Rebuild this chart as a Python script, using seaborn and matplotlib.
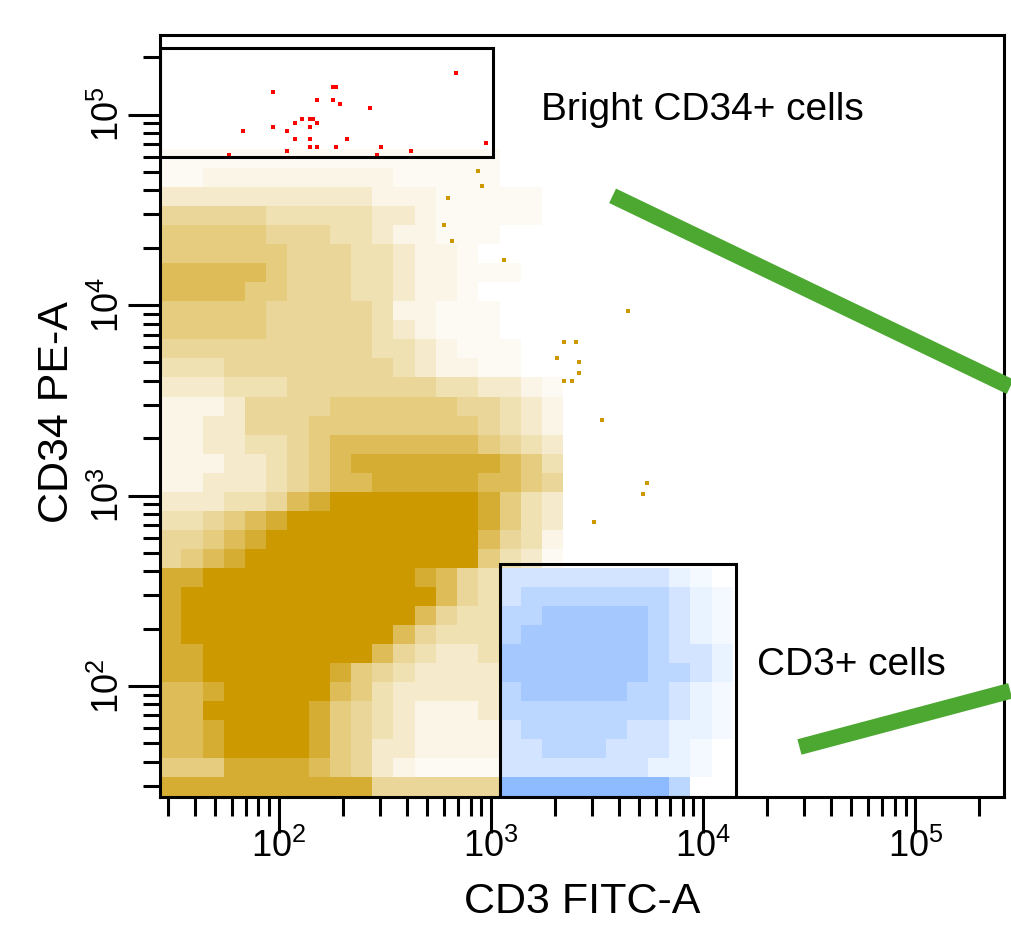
import numpy as np
import pandas as pd
import matplotlib
matplotlib.use("Agg")
import matplotlib.pyplot as plt
from matplotlib.colors import LinearSegmentedColormap
from matplotlib.patches import Rectangle
from matplotlib.ticker import LogLocator, NullFormatter
import seaborn as sns

sns.set_style("ticks")
plt.rcParams["font.family"] = ["Liberation Sans", "DejaVu Sans"]
plt.rcParams["mathtext.default"] = "regular"
plt.rcParams.update({"text.color": "black", "axes.labelcolor": "black",
                     "xtick.color": "black", "ytick.color": "black"})

GOLD = "#CC9900"
BLUE = "#1E78FF"
RED = "#FF0000"
GREEN = "#4DA832"

# event density, 0.1 decade cells (log10 units)
STEP = 0.1
# occupancy code -> share of the cell covered by events
LEVELS = [0, 0.05, 0.1, 0.2, 0.3, 0.4, 0.5, 0.65, 0.8, 1.0]

# ungated events, rows top (10^4.82) to bottom (10^1.42), cols from 10^1.44
GOLD_X0, GOLD_Y0 = 1.44, 1.42
gold_rows = [
    "1111111111111111000",
    "1122222222211111000",
    "3333333333222111110",
    "5555544444332111110",
    "6666655544322111000",
    "6666665554432210000",
    "7777765554432211100",
    "7777665554432210000",
    "6666655555422111000",
    "6666655555432111000",
    "5555555555443211100",
    "4445555555543221100",
    "3334445555555443321",
    "2223555566666655432",
    "2233555666666665432",
    "2233445677777776543",
    "2223345678888888764",
    "2233345677888887765",
    "3334457899999998643",
    "4456789999999998643",
    "5567899999999997542",
    "5678999999999996431",
    "8899999999998754000",
    "8999999999999754000",
    "8999999999997544000",
    "8999999999975444000",
    "8899999999754334000",
    "8899999986543333000",
    "7789999976433333000",
    "7799999865432223000",
    "7789999865432222000",
    "7789999865332222000",
    "6668888765321111000",
    "8888888888555555000",
]

# CD3+ gate events, rows top (10^2.62) to bottom (10^1.42), cols from 10^3.04
BLUE_X0, BLUE_Y0 = 3.04, 1.42
blue_rows = [
    "33333333210",
    "34444444321",
    "44555554321",
    "45555554321",
    "55555554332",
    "55555554432",
    "45555544321",
    "44444444321",
    "34444433221",
    "33444333210",
    "33333332210",
    "66666666400",
]

# bright CD34+ events
red_x = [682, 94, 179, 185, 151, 179, 194, 269, 128, 140, 145, 119, 151, 68, 94,
         140, 109, 119, 140, 209, 944, 140, 151, 185, 302, 109, 419, 58, 290]
red_y = [166000, 132000, 139000, 139000, 120000, 120000, 114000, 109000, 95300,
         95300, 95300, 90800, 90800, 82400, 86500, 86500, 82400, 74800, 74800,
         74800, 71300, 67900, 67900, 67900, 67900, 64700, 64700, 61700, 61700]

# isolated ungated events outside the dense cloud
gold_out_x = [4405, 5410, 5190, 3320, 3050, 2200, 2505, 2590, 2040, 2590, 2200,
              2400, 1150, 865, 904, 625, 598, 653]
gold_out_y = [9330, 1165, 1020, 2495, 726, 6410, 6410, 5035, 5280, 4405, 4000,
              4000, 17300, 50800, 42400, 36600, 26400, 21800]

gate_bright = [27.5, 1020, 60100, 225000]
gate_cd3 = [1100, 14350, 26.1, 437]

arrow_upper_x, arrow_upper_y = [3741, 280500], [37500, 3724]
arrow_lower_x, arrow_lower_y = [28440, 280500], [47.8, 94.2]


def grid_frame(rows, x0, y0):
    recs = []
    n = len(rows)
    for i, row in enumerate(rows):
        ylog = y0 + (n - 1 - i) * STEP + STEP / 2
        for j, code in enumerate(row):
            if code != "0":
                recs.append((10 ** (x0 + j * STEP + STEP / 2), 10 ** ylog, LEVELS[int(code)]))
    return pd.DataFrame(recs, columns=["cd3", "cd34", "w"])


def draw_grid(ax, rows, x0, y0, color):
    df = grid_frame(rows, x0, y0)
    cmap = LinearSegmentedColormap.from_list("c", ["white", color])
    sns.histplot(data=df, x="cd3", y="cd34", weights="w", log_scale=(True, True),
                 binwidth=STEP,
                 binrange=((x0, x0 + len(rows[0]) * STEP), (y0, y0 + len(rows) * STEP)),
                 cmap=cmap, vmin=0, vmax=1, ax=ax)


fig = plt.figure(figsize=(10.11, 9.31), dpi=100)
ax = fig.add_axes([0.1583, 0.1439, 0.8348, 0.8185])

draw_grid(ax, gold_rows, GOLD_X0, GOLD_Y0, GOLD)
draw_grid(ax, blue_rows, BLUE_X0, BLUE_Y0, BLUE)

sns.scatterplot(x=gold_out_x, y=gold_out_y, color=GOLD, marker="s", s=10,
                linewidth=0, ax=ax)
sns.scatterplot(x=red_x, y=red_y, color=RED, marker="s", s=10, linewidth=0, ax=ax)

for x0, x1, y0, y1 in [gate_bright, gate_cd3]:
    ax.add_patch(Rectangle((x0, y0), x1 - x0, y1 - y0, fill=False,
                           edgecolor="black", linewidth=2.2, zorder=5))

ax.text(1714, 106000, "Bright CD34+ cells", fontsize=28, va="center", ha="left")
ax.text(18030, 129, "CD3+ cells", fontsize=28, va="center", ha="left")

for xs, ys in [(arrow_upper_x, arrow_upper_y), (arrow_lower_x, arrow_lower_y)]:
    ax.plot(xs, ys, color=GREEN, linewidth=11.5, solid_capstyle="butt",
            clip_on=False, zorder=6)

ax.set_xscale("log")
ax.set_yscale("log")
ax.set_xlim(27.5, 262144)
ax.set_ylim(26.1, 262144)

for axis in (ax.xaxis, ax.yaxis):
    axis.set_major_locator(LogLocator(base=10, numticks=10))
    axis.set_minor_locator(LogLocator(base=10, subs=np.arange(2, 10), numticks=100))
    axis.set_minor_formatter(NullFormatter())

ax.tick_params(axis="x", which="major", length=26, width=2.2, labelsize=26, pad=-3)
ax.tick_params(axis="x", which="minor", length=14, width=2.2)
ax.tick_params(axis="y", which="major", length=23, width=2.2, labelsize=26,
               pad=1, labelrotation=90)
ax.tick_params(axis="y", which="minor", length=12, width=2.2)
plt.setp(ax.get_yticklabels(), va="center")

for spine in ax.spines.values():
    spine.set_linewidth(2.2)
    spine.set_color("black")

ax.set_xlabel("CD3 FITC-A", fontsize=31)
ax.set_ylabel("CD34 PE-A", fontsize=31)
ax.xaxis.set_label_coords(0.5, -0.112)
ax.yaxis.set_label_coords(-0.098, 0.505)

fig.savefig("out.png", dpi=100)
